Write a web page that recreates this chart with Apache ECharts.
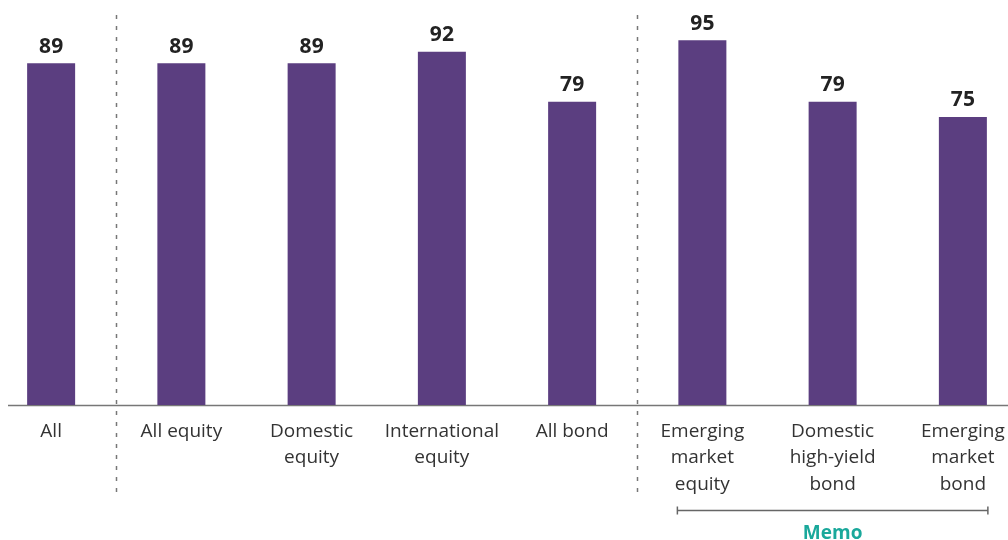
<!DOCTYPE html>
<html><head><meta charset="utf-8">
<script src="https://cdn.jsdelivr.net/npm/echarts@6/dist/echarts.min.js"></script>
<style>html,body{margin:0;padding:0;background:#fff;overflow:hidden;width:1008px;height:540px;position:relative}#c{position:absolute;left:-14px;top:0;width:1042px;height:540px}</style>
</head><body><div id="c"></div>
<script>
var categories = ['All', 'All equity', 'Domestic\nequity', 'International\nequity', 'All bond', 'Emerging\nmarket\nequity', 'Domestic\nhigh-yield\nbond', 'Emerging\nmarket\nbond'];
var values = [89, 89, 89, 92, 79, 95, 79, 75];
var separatorsAfter = [0, 4];
var memoRange = [5, 7];
var memoText = 'Memo';

var OFFSET = 14; // container shifted left by this many px
var FONT = '"Open Sans", "Noto Sans", sans-serif';
var chart = echarts.init(document.getElementById('c'));
chart.setOption({
  animation: false,
  grid: { left: 0, right: 0, top: 21, bottom: 135, containLabel: false },
  xAxis: {
    type: 'category', data: categories,
    axisLine: { show: false }, axisTick: { show: false },
    axisLabel: { interval: 0, color: '#333', fontFamily: FONT, fontSize: 19, lineHeight: 26.5, margin: 13 }
  },
  yAxis: { type: 'value', min: 0, max: 100, show: false, splitLine: { show: false } },
  series: [{
    type: 'bar', data: values, barWidth: 48,
    itemStyle: { color: '#5b3e80' },
    label: { show: true, position: 'top', distance: 6, color: '#222', fontFamily: FONT, fontWeight: 'bold', fontSize: 21 }
  }]
});

function px(i, v) { return chart.convertToPixel({ xAxisIndex: 0, yAxisIndex: 0 }, [i, v]); }
var base = Math.round(px(0, 0)[1]) + 0.5;
var step = px(1, 0)[0] - px(0, 0)[0];
var g = [];
g.push({ type: 'line', shape: { x1: 8 + OFFSET, y1: base, x2: 1008 + OFFSET, y2: base }, style: { stroke: '#777', lineWidth: 1.5 } });
separatorsAfter.forEach(function (i) {
  var x = Math.round(px(i, 0)[0] + step / 2) + 0.5;
  g.push({ type: 'line', shape: { x1: x, y1: 15, x2: x, y2: 497 }, style: { stroke: '#777', lineWidth: 1.5, lineDash: [4, 7] } });
});
var mx1 = px(memoRange[0], 0)[0] - 25, mx2 = px(memoRange[1], 0)[0] + 25;
var my = 510.5;
g.push({ type: 'line', shape: { x1: mx1, y1: my, x2: mx2, y2: my }, style: { stroke: '#666', lineWidth: 1.5 } });
g.push({ type: 'line', shape: { x1: mx1, y1: my - 4, x2: mx1, y2: my + 4 }, style: { stroke: '#666', lineWidth: 1.5 } });
g.push({ type: 'line', shape: { x1: mx2, y1: my - 4, x2: mx2, y2: my + 4 }, style: { stroke: '#666', lineWidth: 1.5 } });
g.push({ type: 'text', x: (mx1 + mx2) / 2, y: 534, style: { text: memoText, fill: '#1aa89b', font: 'bold 19px ' + FONT, textAlign: 'center', textVerticalAlign: 'middle' } });
chart.setOption({ graphic: g });
</script></body></html>
